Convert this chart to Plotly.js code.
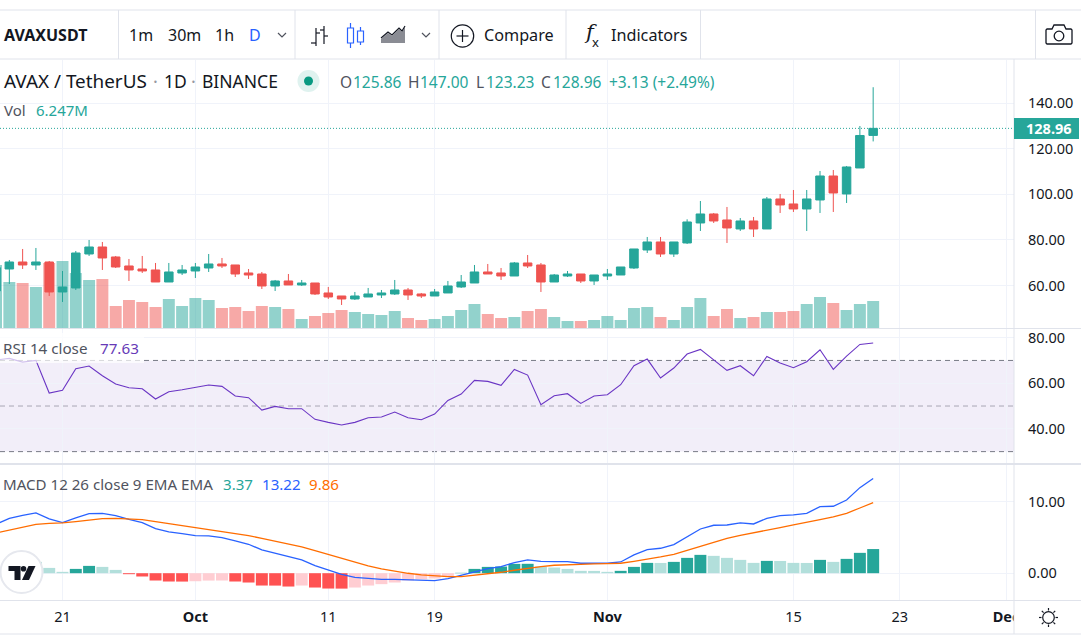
<!DOCTYPE html>
<html>
<head>
<meta charset="utf-8">
<script src="https://cdn.plot.ly/plotly-3.0.1.min.js"></script>
<style>html,body{margin:0;padding:0;background:#fff;overflow:hidden}#chart{width:1081px;height:640px}</style>
</head>
<body>
<div id="chart"></div>
<script>
const dates = ['2021-09-16','2021-09-17','2021-09-18','2021-09-19','2021-09-20','2021-09-21','2021-09-22','2021-09-23','2021-09-24','2021-09-25','2021-09-26','2021-09-27','2021-09-28','2021-09-29','2021-09-30',
'2021-10-01','2021-10-02','2021-10-03','2021-10-04','2021-10-05','2021-10-06','2021-10-07','2021-10-08','2021-10-09','2021-10-10','2021-10-11','2021-10-12','2021-10-13','2021-10-14','2021-10-15','2021-10-16','2021-10-17','2021-10-18','2021-10-19','2021-10-20','2021-10-21','2021-10-22','2021-10-23','2021-10-24','2021-10-25','2021-10-26','2021-10-27','2021-10-28','2021-10-29','2021-10-30','2021-10-31',
'2021-11-01','2021-11-02','2021-11-03','2021-11-04','2021-11-05','2021-11-06','2021-11-07','2021-11-08','2021-11-09','2021-11-10','2021-11-11','2021-11-12','2021-11-13','2021-11-14','2021-11-15','2021-11-16','2021-11-17','2021-11-18','2021-11-19','2021-11-20','2021-11-21'];
const opens = [57.63,67.28,70.35,69.04,70.35,57.2,58.95,73.86,76.93,72.55,68.6,67.28,66.85,61.58,65.53,
66.41,67.72,69.48,69.04,65.53,65.09,59.83,62.02,60.27,61.14,56.76,55.44,54.13,55.0,55.88,56.32,58.07,56.32,55.44,56.76,59.39,61.14,65.97,65.53,64.21,69.92,69.04,61.58,64.21,65.09,62.02,
64.21,64.65,67.72,75.62,79.13,73.86,78.69,87.46,91.41,88.78,84.83,88.34,84.83,97.99,95.8,93.6,97.55,108.07,100.18,111.58,125.86];
const highs = [68.5,71.23,76.06,76.5,70.79,66.41,75.18,80.0,79.13,72.99,71.67,72.99,69.92,69.92,69.04,
69.92,73.86,72.11,69.04,67.28,65.97,62.46,65.09,62.46,61.14,59.39,55.44,57.2,58.95,58.07,62.46,58.95,56.76,58.51,62.02,64.65,69.04,69.48,67.72,70.35,73.42,69.92,65.09,66.41,65.09,64.65,
67.28,68.16,76.06,81.32,81.32,79.13,89.07,97.1,91.85,94.48,89.65,90.09,98.86,100.18,101.93,101.93,110.27,110.7,112.46,130,147];
const lows = [56.6,60.71,67.29,66.85,55.44,52.81,58.07,72.99,66.85,67.72,62.02,65.53,61.58,61.58,64.65,
63.34,65.97,67.72,63.77,62.9,58.51,57.63,60.27,59.83,55.88,54.13,51.5,53.7,55.0,54.56,55.88,53.7,54.56,55.44,56.76,58.95,61.14,65.09,62.46,64.21,67.72,57.2,61.58,63.77,61.14,60.27,
62.46,64.65,67.28,74.3,72.55,72.55,78.25,83.95,87.46,78.69,83.95,81.32,84.83,91.85,92.29,83.95,91.85,92.29,96.23,111.58,123.23];
const closes = [67.87,70.35,69.04,70.35,57.2,59.39,74.3,76.93,72.11,68.16,66.85,66.41,61.58,65.97,66.85,
68.16,69.48,68.6,65.09,64.65,59.83,62.02,60.27,61.14,56.32,55.0,54.13,55.44,56.32,56.76,58.07,55.88,55.44,57.2,59.83,61.58,65.97,65.09,64.21,69.92,68.6,61.58,64.65,65.09,62.02,64.65,
65.09,68.16,76.06,79.13,73.86,79.13,87.9,91.41,88.34,85.27,88.34,84.83,97.99,95.36,93.6,97.99,108.07,100.62,112.02,125.83,128.96];
const volumes = [14.57,10.64,10.41,9.48,15.03,15.5,12.72,11.1,11.33,5.09,6.48,6.01,4.86,6.71,5.09,
6.94,6.48,4.63,4.86,3.93,5.09,4.86,4.39,2.08,2.78,3.47,4.16,3.7,3.24,3.01,3.93,2.31,1.85,2.08,2.78,4.16,5.55,3.24,2.31,2.54,3.93,4.39,2.54,1.62,1.62,1.85,
2.78,1.85,4.63,4.86,2.54,1.85,4.86,6.94,2.78,4.39,2.31,2.54,3.7,3.7,3.93,5.55,7.17,5.78,4.16,5.55,6.247];
const rsi = [70.17,70.90,69.29,70.03,55.70,56.87,66.37,67.54,63.30,59.65,58.04,57.60,53.07,56.28,57.16,
58.04,59.21,58.62,54.38,53.65,48.24,49.85,48.83,48.83,44.15,42.83,41.66,42.83,44.88,45.17,47.37,44.88,44.0,46.49,52.48,55.26,61.25,60.82,59.06,66.08,63.59,50.58,54.53,55.41,51.17,54.38,
54.97,59.35,67.69,70.61,62.28,66.66,72.8,74.85,70.32,65.64,67.69,63.30,71.78,68.86,66.81,69.44,74.70,66.08,71.93,77.04,77.63];
const macd = [6.82,7.66,8.08,8.41,7.57,7.06,7.71,8.31,8.36,8.03,7.52,7.06,6.22,5.76,5.52,
5.24,5.20,4.97,4.50,4.04,3.25,2.78,2.27,1.85,1.06,0.41,-0.15,-0.57,-0.71,-0.85,-0.85,-0.94,-1.03,-1.03,-0.75,-0.29,0.22,0.64,0.92,1.48,1.85,1.66,1.62,1.62,1.39,1.39,
1.39,1.57,2.55,3.29,3.48,3.99,5.10,6.17,6.69,6.73,7.01,6.87,7.66,8.03,8.13,8.36,9.29,9.34,10.22,11.94,13.22];
const signal = [5.62,6.03,6.45,6.82,6.96,7.01,7.2,7.43,7.62,7.66,7.62,7.48,7.2,6.92,6.64,
6.36,6.13,5.85,5.57,5.24,4.87,4.5,4.08,3.66,3.15,2.59,2.04,1.48,1.01,0.6,0.27,-0.01,-0.24,-0.38,-0.47,-0.47,-0.29,-0.1,0.13,0.41,0.69,0.92,1.11,1.2,1.29,1.29,
1.34,1.39,1.66,1.94,2.27,2.64,3.15,3.76,4.31,4.87,5.29,5.62,5.99,6.36,6.73,7.06,7.48,7.85,8.36,9.1,9.86];
const hist = [0.7,1.63,1.64,1.58,0.74,0.19,0.6,1.02,0.88,0.46,-0.14,-0.46,-1.02,-1.16,-1.17,
-1.12,-1.03,-1.02,-1.16,-1.30,-1.72,-1.73,-1.86,-1.72,-2.0,-2.14,-2.15,-2.0,-1.72,-1.53,-1.30,-1.02,-0.84,-0.74,-0.46,0.05,0.60,0.88,0.93,1.30,1.31,0.93,0.79,0.60,0.33,0.32,
0.19,0.33,0.88,1.44,1.43,1.58,2.14,2.56,2.42,2.14,1.86,1.44,1.72,1.71,1.44,1.43,1.86,1.58,2.0,2.84,3.37];
const xTickVals = ['2021-09-21','2021-10-01','2021-10-11','2021-10-19','2021-11-01','2021-11-15','2021-11-23','2021-12-01'];
const xTickText = ['21','<b>Oct</b>','11','19','<b>Nov</b>','15','23','<b>Dec</b>'];
const priceTicks = [60,80,100,120,140];
const rsiTicks = [40,60,80];
const macdTicks = [0,10];

const W = 1081, H = 640, AX = 1014;
const UP = '#26a69a', DOWN = '#ef5350', SEP = '#e0e3eb', GRID = '#f0f3fa', INK = '#131722', GREY = '#50535e';
const FONT = '"Noto Sans", sans-serif';
const fx = x => x / W, fy = y => 1 - y / H;

const traces = [
  {type:'bar', x:dates, y:volumes, xaxis:'x', yaxis:'y', hoverinfo:'skip', showlegend:false,
   marker:{color:closes.map((c,i)=> c>=opens[i] ? 'rgba(38,166,154,0.5)' : 'rgba(239,83,80,0.5)'), line:{width:0}}},
  {type:'candlestick', x:dates, open:opens, high:highs, low:lows, close:closes, xaxis:'x', yaxis:'y2', hoverinfo:'skip', showlegend:false,
   whiskerwidth:0,
   increasing:{line:{color:UP,width:1}, fillcolor:UP},
   decreasing:{line:{color:DOWN,width:1}, fillcolor:DOWN}},
  {type:'scatter', mode:'lines', x:dates, y:rsi, xaxis:'x', yaxis:'y3', hoverinfo:'skip', showlegend:false,
   line:{color:'#6a35c4',width:1.1}},
  {type:'bar', x:dates, y:hist, xaxis:'x', yaxis:'y4', hoverinfo:'skip', showlegend:false,
   marker:{line:{width:0}, color:hist.map((v,i)=>{const rising = i===0 || v>hist[i-1];
     return v>=0 ? (rising ? UP : '#b2dfdb') : (rising ? '#ffcdd2' : '#ff5252');})}},
  {type:'scatter', mode:'lines', x:dates, y:macd, xaxis:'x', yaxis:'y4', hoverinfo:'skip', showlegend:false,
   line:{color:'#2962ff',width:1.3}},
  {type:'scatter', mode:'lines', x:dates, y:signal, xaxis:'x', yaxis:'y4', hoverinfo:'skip', showlegend:false,
   line:{color:'#ff6d00',width:1.3}}
];

/* chrome helpers: everything below is page furniture in pixel coordinates */
const ln = (x0,y0,x1,y1,color=SEP,width=1,layer='above') => ({type:'line',xref:'paper',yref:'paper',x0:fx(x0),x1:fx(x1),y0:fy(y0),y1:fy(y1),line:{color,width},layer});
const rect = (x0,y0,x1,y1,fill,opts={}) => Object.assign({type:'rect',xref:'paper',yref:'paper',x0:fx(x0),x1:fx(x1),y0:fy(y0),y1:fy(y1),fillcolor:fill,line:{width:0},layer:'above'},opts);
const circ = (cx,cy,r,fill,lineColor,width=1) => ({type:'circle',xref:'paper',yref:'paper',x0:fx(cx-r),x1:fx(cx+r),y0:fy(cy+r),y1:fy(cy-r),fillcolor:fill,line:{color:lineColor||fill,width:lineColor?width:0},layer:'above'});
const poly = (pts,fill,lineColor,width=1,close=false) => ({type:'path',xref:'paper',yref:'paper',layer:'above',
  path:'M'+pts.map(p=>fx(p[0])+','+fy(p[1])).join(' L')+(close?' Z':''), fillcolor:fill||'rgba(0,0,0,0)', line:{color:lineColor||'rgba(0,0,0,0)',width:lineColor?width:0}});
const txt = (text,x,y,size,color=INK,extra={}) => Object.assign({text,xref:'paper',yref:'paper',x:fx(x-1),y:fy(y-0.7),xanchor:'left',yanchor:'middle',showarrow:false,borderpad:0,
  font:{family:FONT,size,color}},extra);

const lastClose = closes[closes.length-1];

const shapes = [
  /* RSI band and levels */
  {type:'rect',xref:'paper',x0:0,x1:fx(AX),yref:'y3',y0:30,y1:70,fillcolor:'rgba(126,87,194,0.1)',line:{width:0},layer:'below'},
  {type:'line',xref:'paper',x0:0,x1:fx(AX),yref:'y3',y0:70,y1:70,line:{color:'#787b86',width:1,dash:'5px,4px'},layer:'below'},
  {type:'line',xref:'paper',x0:0,x1:fx(AX),yref:'y3',y0:50,y1:50,line:{color:'#a9a7b4',width:1,dash:'5px,4px'},layer:'below'},
  {type:'line',xref:'paper',x0:0,x1:fx(AX),yref:'y3',y0:30,y1:30,line:{color:'#787b86',width:1,dash:'5px,4px'},layer:'below'},
  /* last price line */
  {type:'line',xref:'paper',x0:0,x1:fx(AX),yref:'y2',y0:lastClose,y1:lastClose,line:{color:UP,width:1,dash:'1px,2px'},layer:'above'},
  /* RSI legend backing */
  rect(0,333,144,363,'rgba(255,255,255,0.7)'),
  /* cut-off of the time labels at the price axis */
  rect(AX,601,W,633,'#ffffff'),
  rect(AX,60,W,600,'#ffffff',{layer:'below'}),
  /* pane separators and axes */
  ln(0,10,W,10), ln(0,59,W,59),
  ln(118.5,10,118.5,59), ln(295,10,295,59), ln(439,10,439,59), ln(566,10,566,59), ln(700.5,10,700.5,59), ln(1035.5,10,1035.5,59),
  ln(0,328.5,W,328.5,SEP,1.2), ln(0,464,W,464,SEP,2),
  ln(0,600.5,W,600.5), ln(0,634,W,634), ln(AX,59,AX,634),
  /* last price tag */
  rect(AX,118,1079,139,UP),
  /* pulse dot */
  circ(308.5,81,11,'#dff2ef'), circ(308.5,81,4.5,'#089981'),
  /* bar icon */
  ln(316,28,316,46,INK,1.2), ln(311,43,316,43,INK,1.2), ln(316,33,320,33,INK,1.2),
  ln(324,26,324,44,INK,1.2), ln(320,30,324,30,INK,1.2), ln(324,36,328,36,INK,1.2),
  /* candle icon */
  rect(347.5,28,353.5,43,'#ffffff',{line:{color:'#2962ff',width:1.2}}), ln(350.5,23,350.5,28,'#2962ff',1.2), ln(350.5,43,350.5,48,'#2962ff',1.2),
  rect(357.5,31,363.5,42,'#ffffff',{line:{color:'#2962ff',width:1.2}}), ln(360.5,27,360.5,31,'#2962ff',1.2), ln(360.5,42,360.5,45,'#2962ff',1.2),
  /* area icon */
  poly([[381,43],[381,39],[388,33],[392,36],[399,29],[402,32],[405,27],[405,43]],'#8a8c94',null,0,true),
  poly([[381,38],[388,32],[392,35],[399,28],[402,31],[405,26]],null,INK,1.2),
  /* chevrons */
  poly([[278,33],[282,37],[286,33]],null,GREY,1.2), poly([[422,33],[426,37],[430,33]],null,GREY,1.2),
  /* compare */
  circ(462.5,36,11.2,'rgba(0,0,0,0)',INK,1.2), ln(462.5,30,462.5,42,INK,1.2), ln(456.5,36,468.5,36,INK,1.2),
  /* camera */
  poly([[1047,29],[1052,29],[1054,25],[1064,25],[1066,29],[1071,29],[1072,30],[1072,43],[1071,44],[1047,44],[1046,43],[1046,30]],'#ffffff',INK,1.3,true),
  circ(1059,36,4.8,'#ffffff',INK,1.3),
  /* settings sun */
  circ(1048.5,617.5,5.8,'#ffffff',INK,1.2),
  ln(1048.5,608,1048.5,610.5,INK,1.2), ln(1048.5,624.5,1048.5,627,INK,1.2), ln(1039,617.5,1041.5,617.5,INK,1.2), ln(1055.5,617.5,1058,617.5,INK,1.2),
  ln(1041.8,610.8,1043.6,612.6,INK,1.2), ln(1053.4,622.4,1055.2,624.2,INK,1.2), ln(1041.8,624.2,1043.6,622.4,INK,1.2), ln(1053.4,612.6,1055.2,610.8,INK,1.2),
  /* watermark logo */
  circ(21.5,572,21,'#ffffff','#e6e8ee',2),
  poly([[8.5,566],[20.5,566],[20.5,580],[14.5,580],[14.5,571],[8.5,571]],'#131722',null,0,true),
  circ(23.5,568.8,2.8,'#131722'),
  poly([[28.5,566],[35.5,566],[29,580],[22,580]],'#131722',null,0,true)
];

const annotations = [
  txt('<b>AVAXUSDT</b>',4,35.7,16),
  txt('1m',129,35.7,16), txt('30m',168,35.7,16), txt('1h',215,35.7,16), txt('D',249,35.7,16,'#2962ff'),
  txt('Compare',484,35.7,16.2), txt('Indicators',611,35.7,16.2),
  txt('<i>f</i>',584,33,21,INK,{font:{family:'"DejaVu Serif", serif',size:21,color:INK}}), txt('x',592,43,13),
  txt('AVAX / TetherUS',4,81.7,18.9), txt('·',153,81.7,18,'#9598a1'), txt('1D',164,81.7,17.5), txt('·',191,81.7,18,'#9598a1'), txt('BINANCE',202,81.7,17.5),
  txt('O',340,82.4,15.5,GREY), txt('125.86',353,82.4,15.5,UP),
  txt('H',408,82.4,15.5,GREY), txt('147.00',420,82.4,15.5,UP),
  txt('L',476,82.4,15.5,GREY), txt('123.23',486,82.4,15.5,UP),
  txt('C',541,82.4,15.5,GREY), txt('128.96',553,82.4,15.5,UP),
  txt('+3.13 (+2.49%)',609,82.4,15.5,UP),
  txt('Vol',4,111,15,GREY), txt('6.247M',36,111,15,UP),
  txt('RSI 14 close',3,349,15.2,GREY), txt('77.63',100,349,15.2,'#673ab7'),
  txt('MACD 12 26 close 9 EMA EMA',3,484.4,15.1,GREY), txt('3.37',223,484.4,15.1,UP), txt('13.22',262,484.4,15.1,'#2962ff'), txt('9.86',309,484.4,15.1,'#ff6d00'),
  txt('<b>128.96</b>',1026,129,14.5,'#ffffff')
];

const yBase = {showgrid:true, gridcolor:GRID, gridwidth:1, zeroline:false, showline:false, ticks:'', side:'right',
  tickmode:'array', tickformat:'.2f', tickfont:{family:FONT,size:14.5,color:INK}, ticklabelstandoff:13, fixedrange:true};

const layout = {
  width:W, height:H, margin:{l:0,r:0,t:0,b:0}, paper_bgcolor:'#fff', plot_bgcolor:'#fff', showlegend:false,
  bargap:0.1, boxgap:0.36, boxgroupgap:0, boxmode:'overlay',
  dragmode:false, hovermode:false, font:{family:FONT},
  xaxis:{type:'date', domain:[0,fx(AX)], anchor:'y4', range:['2021-09-16 07:08','2021-12-01 14:20'],
    rangeslider:{visible:false}, tickmode:'array', tickvals:xTickVals, ticktext:xTickText,
    showgrid:true, gridcolor:GRID, gridwidth:1, zeroline:false, showline:false, ticks:'', tickangle:0,
    tickfont:{family:FONT,size:14.5,color:INK}, ticklabelstandoff:6, fixedrange:true},
  yaxis:{domain:[fy(328),fy(60)], range:[0,62], anchor:'x', visible:false, showgrid:false, fixedrange:true},
  yaxis2:Object.assign({}, yBase, {overlaying:'y', anchor:'x', range:[41.4,158.94], tickvals:priceTicks}),
  yaxis3:Object.assign({}, yBase, {domain:[fy(463),fy(329)], anchor:'x', range:[25,83.8], tickvals:rsiTicks}),
  yaxis4:Object.assign({}, yBase, {domain:[fy(600),fy(465)], anchor:'x', range:[-3.74,15.1], tickvals:macdTicks}),
  shapes, annotations
};

Plotly.newPlot('chart', traces, layout, {displayModeBar:false, staticPlot:true});
</script>
</body>
</html>
